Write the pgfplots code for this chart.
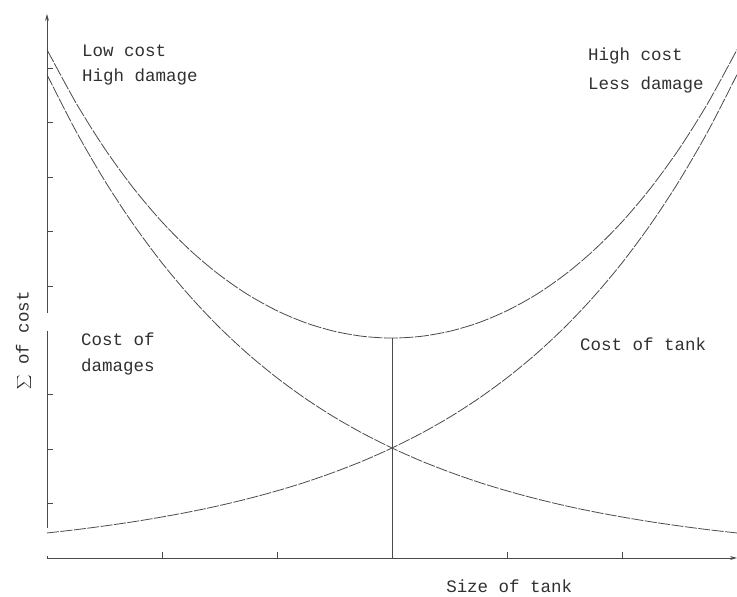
\documentclass[border=0pt]{standalone}
\usepackage{pgfplots}
\pgfplotsset{compat=1.18}
\usepackage{fontspec}
\setmainfont{Liberation Mono}
\usetikzlibrary{arrows.meta}
\definecolor{ink}{HTML}{4A4A4A}
\definecolor{txt}{HTML}{303030}
\pgfplotstableread{
x tank damage total
0    0.460 8.885 9.345
0.25 0.520 7.854 8.374
0.5  0.589 6.942 7.531
0.75 0.666 6.137 6.803
1.0  0.754 5.424 6.178
1.25 0.852 4.795 5.647
1.5  0.964 4.238 5.203
1.75 1.091 3.746 4.837
2.0  1.234 3.312 4.546
2.25 1.396 2.927 4.323
2.5  1.580 2.587 4.167
2.75 1.787 2.287 4.074
3.0  2.022 2.022 4.043
3.25 2.287 1.787 4.074
3.5  2.587 1.580 4.167
3.75 2.927 1.396 4.323
4.0  3.312 1.234 4.546
4.25 3.746 1.091 4.837
4.5  4.238 0.964 5.203
4.75 4.795 0.852 5.647
5.0  5.424 0.754 6.178
5.25 6.137 0.666 6.803
5.5  6.942 0.589 7.531
5.75 7.854 0.520 8.374
6.0  8.885 0.460 9.345
}\datatable
\begin{document}
\begin{tikzpicture}
\path[use as bounding box] (-47pt,-39pt) rectangle (690pt,558pt);
\begin{axis}[
  at={(0pt,0pt)}, anchor=south west,
  scale only axis, width=690pt, height=544pt,
  xmin=0, xmax=6, ymin=0, ymax=10,
  axis lines=left,
  axis line style={ink, line width=0.9pt, -{Stealth[length=7pt,width=4pt]}},
  tick align=inside,
  major tick length=6pt,
  tick style={ink, line width=0.9pt},
  xtick={1,2,3,4,5},
  ytick={1,2,3,5,6,7,8,9},
  xticklabels={}, yticklabels={},
  clip=false,
  font=\fontsize{17.5}{20}\selectfont\color{txt},
]
% gaps in the y axis
\fill[white] (axis cs:-0.02,0.03) rectangle (axis cs:0.02,0.55);
\fill[white] (axis cs:-0.02,4.17) rectangle (axis cs:0.02,4.50);
\addplot[ink, line width=0.8pt, smooth, dash pattern=on 12pt off 1.5pt] table[x=x,y=tank] {\datatable};
\addplot[ink, line width=0.8pt, smooth, dash pattern=on 12pt off 1.5pt] table[x=x,y=damage] {\datatable};
\addplot[ink, line width=0.8pt, smooth, dash pattern=on 14pt off 1.5pt] table[x=x,y=total] {\datatable};
\addplot[ink, line width=0.9pt] coordinates {(3,0) (3,4.043)};
\node[anchor=base west, inner sep=0pt] at (axis cs:0.304,9.21) {Low cost};
\node[anchor=base west, inner sep=0pt] at (axis cs:0.304,8.75) {High damage};
\node[anchor=base west, inner sep=0pt] at (axis cs:4.704,9.15) {High cost};
\node[anchor=base west, inner sep=0pt] at (axis cs:4.704,8.62) {Less damage};
\node[anchor=base west, inner sep=0pt] at (axis cs:0.296,3.915) {Cost of};
\node[anchor=base west, inner sep=0pt] at (axis cs:0.296,3.42) {damages};
\node[anchor=base west, inner sep=0pt] at (axis cs:4.635,3.82) {Cost of tank};
\node[anchor=base west, inner sep=0pt] at (axis cs:3.47,-0.643) {Size of tank};
\node[rotate=90, anchor=center, inner sep=0pt] at (axis cs:-0.2,4.0) {$\displaystyle\sum$ of cost};
\end{axis}
\end{tikzpicture}
\end{document}
